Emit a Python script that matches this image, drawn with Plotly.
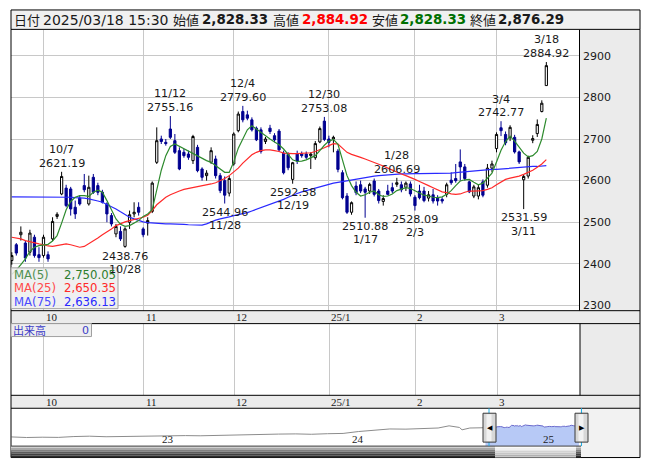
import plotly.graph_objects as go

W, H = 653, 470

# ---------------- data ----------------
sep_days = [19, 20, 24, 25, 26, 27, 30]
oct_days = [1, 2, 3, 4, 7, 8, 9, 10, 11, 15, 16, 17, 18, 21, 22, 23, 24, 25, 28, 29, 30, 31]
nov_days = [1, 5, 6, 7, 8, 11, 12, 13, 14, 15, 18, 19, 20, 21, 22, 25, 26, 27, 28, 29]
dec_days = [2, 3, 4, 5, 6, 9, 10, 11, 12, 13, 16, 17, 18, 19, 20, 23, 24, 25, 26, 27, 30]
jan_days = [6, 7, 8, 9, 10, 14, 15, 16, 17, 20, 21, 22, 23, 24, 27, 28, 29, 30, 31]
feb_days = [3, 4, 5, 6, 7, 10, 12, 13, 14, 17, 18, 19, 20, 21, 25, 26, 27, 28]
mar_days = [3, 4, 5, 6, 7, 10, 11, 12, 13, 14, 17, 18]

opens = [2408, 2446, 2470, 2450, 2428, 2464, 2422, 2420, 2422, 2460,
         2514, 2568, 2582, 2580, 2536, 2558, 2588, 2544, 2608, 2588,
         2572, 2544, 2516, 2472, 2478, 2442, 2500, 2520, 2536, 2484,
         2498, 2526, 2644, 2700, 2692, 2724, 2696, 2672, 2668, 2664,
         2648, 2680, 2628, 2612, 2644, 2652, 2612, 2600, 2570, 2640,
         2720, 2766, 2758, 2746, 2726, 2722, 2694, 2726, 2708, 2719,
         2666, 2663, 2603, 2665, 2664, 2664, 2660, 2655, 2693, 2743,
         2700, 2700, 2671, 2619, 2563, 2524, 2587, 2590, 2580, 2575,
         2599, 2575, 2550, 2575, 2583, 2591, 2590, 2584, 2592, 2560,
         2575, 2575, 2558, 2566, 2559, 2555, 2567, 2601, 2605, 2645,
         2633, 2597, 2563, 2563, 2597, 2589, 2630, 2677, 2727, 2711,
         2703, 2704, 2669, 2602, 2611, 2697, 2713, 2766, 2828.33]
highs = [2428, 2450, 2490, 2455, 2482, 2470, 2440, 2470, 2430, 2512,
         2524, 2621.19, 2590, 2585, 2552, 2565, 2616, 2612, 2616, 2595,
         2578, 2548, 2522, 2496, 2490, 2488, 2528, 2548, 2548, 2488,
         2512, 2598, 2728, 2708, 2700, 2755.16, 2712, 2680, 2676, 2672,
         2710, 2686, 2632, 2625, 2680, 2660, 2618, 2610, 2612, 2716,
         2766, 2779.60, 2768, 2752, 2730, 2728, 2705, 2734, 2714, 2724,
         2672, 2668, 2645, 2672, 2670, 2670, 2668, 2695, 2730, 2753.08,
         2708, 2708, 2676, 2625, 2570, 2550, 2598, 2600, 2585, 2595,
         2605, 2580, 2565, 2590, 2595, 2606.69, 2598, 2598, 2598, 2565,
         2590, 2585, 2575, 2580, 2565, 2560, 2595, 2620, 2640, 2675,
         2640, 2600, 2590, 2590, 2603, 2640, 2648, 2716, 2742.77, 2718,
         2733, 2710, 2672, 2614, 2660, 2709, 2747, 2793, 2884.92]
lows = [2398, 2420, 2456, 2405, 2420, 2415, 2405, 2415, 2405, 2455,
        2508, 2565, 2536, 2516, 2508, 2540, 2572, 2540, 2568, 2565,
        2545, 2500, 2490, 2464, 2455, 2438.76, 2484, 2512, 2516, 2464,
        2468, 2522, 2640, 2688, 2684, 2700, 2664, 2625, 2655, 2650,
        2640, 2620, 2600, 2600, 2640, 2605, 2570, 2544.96, 2562, 2636,
        2716, 2740, 2745, 2718, 2695, 2665, 2688, 2712, 2692, 2670,
        2615, 2625, 2592.58, 2640, 2655, 2652, 2628, 2650, 2690, 2695,
        2680, 2668, 2620, 2555, 2520, 2518, 2565, 2570, 2510.88, 2568,
        2562, 2545, 2540, 2565, 2570, 2585, 2572, 2575, 2562, 2528.09,
        2555, 2548, 2550, 2545, 2540, 2545, 2560, 2590, 2595, 2600,
        2600, 2570, 2558, 2555, 2560, 2583, 2620, 2668, 2707, 2685,
        2695, 2665, 2640, 2531.59, 2605, 2690, 2705, 2764, 2828.33]
closes = [2420, 2426, 2476, 2414, 2474, 2420, 2415, 2464, 2412, 2502,
          2519, 2610, 2540, 2532, 2520, 2544, 2578, 2584, 2572, 2572,
          2548, 2520, 2496, 2490, 2460, 2484, 2518, 2524, 2524, 2470,
          2504, 2594, 2696, 2694, 2689, 2704, 2668, 2628, 2660, 2656,
          2706, 2624, 2608, 2618, 2672, 2612, 2576, 2565, 2605, 2712,
          2760, 2746, 2750, 2722, 2698, 2670, 2700, 2718, 2698, 2674,
          2619, 2631, 2643, 2647, 2660, 2656, 2664, 2689, 2725, 2699,
          2692, 2704, 2627, 2559, 2524, 2547, 2571, 2575, 2572, 2591,
          2567, 2552, 2557, 2567, 2575, 2595, 2578, 2594, 2568, 2540,
          2559, 2552, 2566, 2551, 2551, 2551, 2590, 2595, 2600, 2633,
          2605, 2573, 2585, 2583, 2565, 2630, 2640, 2711, 2720, 2691,
          2728, 2669, 2645, 2610, 2656, 2701, 2735, 2786, 2876.29]

ma5 = [2375, 2385, 2398, 2412, 2430, 2440, 2444, 2446, 2447, 2455,
       2468, 2498, 2530, 2550, 2560, 2564, 2564, 2562, 2572, 2577,
       2572, 2552, 2530, 2508, 2495, 2490, 2492, 2498, 2504, 2514,
       2520, 2530, 2575, 2625, 2660, 2682, 2688, 2682, 2676, 2670,
       2664, 2660, 2653, 2648, 2644, 2636, 2626, 2620, 2620, 2645,
       2678, 2702, 2722, 2732, 2724, 2715, 2706, 2700, 2693, 2686,
       2676, 2663, 2650, 2646, 2647, 2650, 2655, 2660, 2672, 2685,
       2695, 2699, 2687, 2650, 2612, 2588, 2572, 2563, 2566, 2572,
       2575, 2566, 2562, 2563, 2568, 2576, 2580, 2583, 2581, 2576,
       2570, 2565, 2563, 2560, 2559, 2561, 2567, 2576, 2588, 2599,
       2602, 2603, 2596, 2590, 2594, 2606, 2618, 2645, 2673, 2694,
       2707, 2695, 2679, 2666, 2657, 2660, 2670, 2700, 2750.05]
ma25 = [2464, 2462, 2460, 2456, 2453, 2450, 2448, 2446, 2443, 2442,
        2444, 2446, 2448, 2446, 2443, 2440, 2442, 2448, 2455, 2462,
        2470, 2476, 2484, 2492, 2497, 2501, 2504, 2507, 2510, 2512,
        2517, 2528, 2542, 2552, 2560, 2566, 2571, 2575, 2579, 2581,
        2583, 2585, 2587, 2590, 2592, 2595, 2600, 2605, 2612, 2620,
        2630, 2642, 2653, 2662, 2668, 2672, 2674, 2674, 2672, 2670,
        2666, 2665, 2665, 2665, 2666, 2666, 2667, 2670, 2674, 2679,
        2684, 2689, 2688, 2678, 2668, 2663, 2660, 2656, 2652, 2648,
        2643, 2639, 2635, 2630, 2625, 2620, 2616, 2612, 2608, 2603,
        2598, 2592, 2588, 2583, 2578, 2573, 2571, 2568, 2567, 2568,
        2572, 2575, 2575, 2575, 2576, 2579, 2583, 2590, 2596, 2603,
        2606, 2608, 2611, 2615, 2620, 2625, 2632, 2640, 2650.35]
ma75 = [2561, 2561, 2561, 2560, 2560, 2560, 2560, 2560, 2560, 2560,
        2560, 2560, 2560, 2560, 2559, 2559, 2558, 2556, 2554, 2551,
        2548, 2543, 2538, 2532, 2525, 2518, 2512, 2508, 2504, 2501,
        2499, 2498, 2497, 2497, 2496, 2496, 2496, 2495, 2495, 2494,
        2494, 2493, 2493, 2496, 2501, 2505, 2508, 2510, 2513, 2516,
        2518, 2520, 2523, 2527, 2531, 2535, 2538, 2542, 2546, 2550,
        2555, 2560, 2565, 2569, 2573, 2576, 2579, 2583, 2586, 2589,
        2592, 2594, 2596, 2598, 2600, 2602, 2604, 2606, 2608, 2609,
        2611, 2612, 2613, 2614, 2615, 2615, 2616, 2616, 2617, 2617,
        2617, 2617, 2617, 2617, 2618, 2618, 2618, 2618, 2619, 2620,
        2621, 2623, 2624, 2625, 2625, 2626, 2627, 2627, 2628, 2628,
        2629, 2630, 2631, 2632, 2633, 2634, 2634, 2635, 2636.13]

swing_highs = [("10/7", 2621.19), ("11/12", 2755.16), ("12/4", 2779.60),
               ("12/30", 2753.08), ("1/28", 2606.69), ("3/4", 2742.77),
               ("3/18", 2884.92)]
swing_lows = [("10/28", 2438.76), ("11/28", 2544.96), ("12/19", 2592.58),
              ("1/17", 2510.88), ("2/3", 2528.09), ("3/11", 2531.59)]

price_ticks = [2300, 2400, 2500, 2600, 2700, 2800, 2900]
month_labels = ["10", "11", "12", "25/1", "2", "3"]

nav_dates = ["2022-03-22", "2022-04-20", "2022-05-20", "2022-06-20", "2022-07-20",
             "2022-08-19", "2022-09-20", "2022-10-20", "2022-11-18", "2022-12-20",
             "2023-01-20", "2023-02-20", "2023-03-20", "2023-04-20", "2023-05-19",
             "2023-06-20", "2023-07-20", "2023-08-18", "2023-09-20", "2023-10-20",
             "2023-11-20", "2023-12-20", "2024-01-19", "2024-02-20", "2024-03-19",
             "2024-04-19", "2024-05-20", "2024-06-20", "2024-07-11", "2024-07-31",
             "2024-08-05", "2024-08-20", "2024-09-18"]
nav_vals = [1480, 1420, 1450, 1430, 1520, 1560, 1500, 1530, 1580, 1560,
            1590, 1620, 1600, 1650, 1700, 1760, 1760, 1780, 1800, 1760,
            1820, 1850, 2050, 2200, 2320, 2300, 2380, 2420, 2650, 2480,
            2230, 2420, 2450]

trade_days = (
    [f"2024-09-{d:02d}" for d in sep_days] + [f"2024-10-{d:02d}" for d in oct_days] +
    [f"2024-11-{d:02d}" for d in nov_days] + [f"2024-12-{d:02d}" for d in dec_days] +
    [f"2025-01-{d:02d}" for d in jan_days] + [f"2025-02-{d:02d}" for d in feb_days] +
    [f"2025-03-{d:02d}" for d in mar_days])
idx = list(range(len(trade_days)))

nav_win_dates = trade_days
nav_win_vals = closes

# --------------- geometry helpers ---------------
def px(x):
    return x / W

def py(y):
    return 1 - y / H

PX_PER_DAY = 4.53
X0_PIX, X0_IDX = 43.5, 7


def idx_at(p):
    return X0_IDX + (p - X0_PIX) / PX_PER_DAY


def price_at(y):
    return 2900 - (y - 56) / 0.418


NAV_TOP, NAV_BOT = 410.5, 448
NAV_PTS_PER_PX = 105.0


def nav_at(y):
    return 2876.29 - (y - 425.5) * NAV_PTS_PER_PX


month_first_idx = []
for mm in ["2024-10", "2024-11", "2024-12", "2025-01", "2025-02", "2025-03"]:
    month_first_idx.append(next(i for i, d in enumerate(trade_days) if d.startswith(mm)))

FONT = "DejaVu Sans, Noto Sans CJK JP, sans-serif"
JFONT = "Noto Sans CJK JP, DejaVu Sans, sans-serif"
SERIF = "Liberation Serif, DejaVu Serif, serif"

fig = go.Figure()

fig.add_trace(go.Candlestick(
    x=idx, open=opens, high=highs, low=lows, close=closes,
    increasing=dict(line=dict(color="#000000", width=1), fillcolor="#ffffff"),
    decreasing=dict(line=dict(color="#000090", width=1), fillcolor="#000090"),
    whiskerwidth=0, showlegend=False, hoverinfo="skip", xaxis="x", yaxis="y"))

for vals, col in [(ma75, "#2a2aff"), (ma25, "#ff2a2a"), (ma5, "#2e8b2e")]:
    fig.add_trace(go.Scatter(x=idx, y=vals, mode="lines", line=dict(color=col, width=1.2),
                             showlegend=False, hoverinfo="skip", xaxis="x", yaxis="y"))

fig.add_trace(go.Scatter(x=[idx[0]], y=[-1], mode="markers", marker=dict(opacity=0),
                         showlegend=False, hoverinfo="skip", xaxis="x2", yaxis="y2"))

fig.add_trace(go.Scatter(x=nav_dates + nav_win_dates[:1], y=nav_vals + nav_win_vals[:1],
                         mode="lines", line=dict(color="#8c8c8c", width=1),
                         showlegend=False, hoverinfo="skip", xaxis="x3", yaxis="y3"))
fig.add_trace(go.Scatter(x=nav_win_dates, y=nav_win_vals, mode="lines",
                         line=dict(color="#6a6acc", width=1), fill="tozeroy",
                         fillcolor="rgba(170,192,245,0.85)",
                         showlegend=False, hoverinfo="skip", xaxis="x3", yaxis="y3"))

xr = [idx_at(11), idx_at(579)]
layout = dict(
    width=W, height=H, margin=dict(l=0, r=0, t=0, b=0),
    paper_bgcolor="#ffffff", plot_bgcolor="#ffffff", showlegend=False,
    xaxis=dict(domain=[px(11), px(579)], range=xr, tickvals=month_first_idx,
               showticklabels=False, showgrid=True, gridcolor="#c8c8c8", gridwidth=1,
               zeroline=False, showline=False, ticks="", rangeslider=dict(visible=False),
               fixedrange=True),
    yaxis=dict(domain=[py(312), py(30)], range=[price_at(312), price_at(30)], side="right",
               tickvals=price_ticks, ticktext=[str(v) for v in price_ticks],
               tickfont=dict(family=FONT, size=11, color="#1a1a1a"),
               showgrid=True, gridcolor="#c8c8c8", gridwidth=1, zeroline=False,
               showline=False, ticks="", ticklabelstandoff=3, fixedrange=True),
    xaxis2=dict(domain=[px(11), px(580)], range=xr, anchor="y2", tickvals=month_first_idx,
                showticklabels=False, showgrid=True, gridcolor="#c8c8c8", zeroline=False,
                showline=False, ticks=""),
    yaxis2=dict(domain=[py(397), py(325)], range=[0, 1], anchor="x2", showgrid=False,
                showticklabels=False, zeroline=False, showline=False),
    xaxis3=dict(domain=[px(11), px(580)], type="date", range=["2022-03-21", "2025-03-20"],
                anchor="y3", showticklabels=False, showgrid=False, zeroline=False,
                showline=False, ticks=""),
    yaxis3=dict(domain=[py(NAV_BOT), py(NAV_TOP)], range=[nav_at(NAV_BOT), nav_at(NAV_TOP)],
                anchor="x3", showgrid=False, showticklabels=False, zeroline=False,
                showline=False),
)
fig.update_layout(**layout)

shapes = []


def rect(x0, y0, x1, y1, fill=None, line="#000000", lw=1, layer="above"):
    shapes.append(dict(type="rect", xref="paper", yref="paper", x0=px(x0), x1=px(x1),
                       y0=py(y1), y1=py(y0), fillcolor=fill or "rgba(0,0,0,0)",
                       line=dict(color=line, width=lw) if lw else dict(width=0), layer=layer))


def hline(x0, x1, y, color="#000000", lw=1):
    shapes.append(dict(type="line", xref="paper", yref="paper", x0=px(x0), x1=px(x1),
                       y0=py(y), y1=py(y), line=dict(color=color, width=lw)))


def vline(x, y0, y1, color="#000000", lw=1):
    shapes.append(dict(type="line", xref="paper", yref="paper", x0=px(x), x1=px(x),
                       y0=py(y0), y1=py(y1), line=dict(color=color, width=lw)))


rect(579, 30, 640, 312, fill="#ebebeb", lw=0, layer="below")
rect(11, 312, 640, 325, fill="#ebebeb", lw=0, layer="below")
rect(580, 325, 640, 397, fill="#ebebeb", lw=0, layer="below")
rect(11, 397, 640, 410, fill="#ebebeb", lw=0, layer="below")
rect(580, 410, 640, 459, fill="#f2f2f2", lw=0, layer="below")

rect(11, 10, 640, 29.5, fill="#f0f0f0", line="#000000", lw=1)
vline(11, 29.5, 459.5)
vline(640, 29.5, 459.5)
vline(579.5, 30, 312)
vline(580, 325, 397)
hline(11, 640, 312)
hline(11, 640, 325)
hline(11, 640, 397)
hline(11, 640, 410)
hline(11, 640, 459.5)

grads = ["#d0d0d0", "#a8a8a8", "#808080", "#5c5c5c", "#404040", "#2c2c2c"]
for k, c in enumerate(grads):
    rect(11, 448 + k * 1.9, 581, 449.9 + k * 1.9, fill=c, lw=0)
lgr = ["#fafafa", "#f0f0f0", "#e6e6e6", "#dcdcdc", "#d2d2d2", "#c8c8c8"]
for k, c in enumerate(lgr):
    rect(495, 448 + k * 1.9, 576, 449.9 + k * 1.9, fill=c, lw=0)
hline(11, 581, 448, color="#404040")
vline(489, 410, 448, color="#20b0e8")
vline(581.5, 410, 448, color="#20b0e8")
for hx in (489.5, 581.5):
    rect(hx - 6.5, 415, hx + 6.5, 444, fill="#d8d8d8", line="#3a3a3a", lw=1)
    rect(hx - 3, 416, hx + 2, 443, fill="#f2f2f2", lw=0)

rect(11, 269, 118, 310, fill="rgba(238,238,238,0.88)", line="#a0a0a0", lw=1)
rect(11, 325, 91.5, 338, fill="#eeeeee", line="#a0a0a0", lw=1)

fig.update_layout(shapes=shapes)

ann = []


def text(x, y, s, size=11, color="#1a1a1a", family=FONT, xanchor="left", yanchor="middle",
         xref="paper", yref="paper", bold=False, xshift=0, yshift=0):
    if xref == "paper":
        x = px(x)
    if yref == "paper":
        y = py(y)
    ann.append(dict(x=x, y=y, xref=xref, yref=yref, text=(f"<b>{s}</b>" if bold else s),
                    showarrow=False, xanchor=xanchor, yanchor=yanchor,
                    font=dict(family=family, size=size, color=color), borderpad=0,
                    xshift=xshift, yshift=yshift))


text(12.5, 19.8, "日付", size=13, family=JFONT)
text(41.5, 19.8, "2025/03/18 15:30", size=14)
text(172, 19.8, "始値", size=13, family=JFONT)
text(201, 19.8, f"{opens[-1]:,.2f}", size=13.4, bold=True)
text(271.5, 19.8, "高値", size=13, family=JFONT)
text(301, 19.8, f"{highs[-1]:,.2f}", size=13.4, bold=True, color="#ff0000")
text(370.5, 19.8, "安値", size=13, family=JFONT)
text(398.5, 19.8, f"{lows[-1]:,.2f}", size=13.4, bold=True, color="#007000")
text(468.5, 19.8, "終値", size=13, family=JFONT)
text(496.5, 19.8, f"{closes[-1]:,.2f}", size=13.4, bold=True)

for mi, lab in zip(month_first_idx, month_labels):
    text(mi, 318.5, lab, size=11, family=SERIF, xref="x", xshift=1.5)
    text(mi, 403.5, lab, size=11, family=SERIF, xref="x", xshift=1.5)

for yd, lab in [("2023-01-04", "23"), ("2024-01-04", "24"), ("2025-01-06", "25")]:
    ann.append(dict(x=yd, y=py(440.5), xref="x3", yref="paper", text=lab, showarrow=False,
                    xanchor="left", yanchor="middle", borderpad=0,
                    font=dict(family=SERIF, size=11, color="#1a1a1a")))

LBL = 11.2
PITCH = 13.6
for lab, val in swing_highs:
    i = next(k for k, v in enumerate(highs) if abs(v - val) < 1e-6)
    ann.append(dict(x=i, y=val, xref="x", yref="y", text=f"{val:.2f}", showarrow=False,
                    xanchor="center", yanchor="bottom", yshift=1, borderpad=0,
                    font=dict(family=FONT, size=LBL, color="#1a1a1a")))
    ann.append(dict(x=i, y=val, xref="x", yref="y", text=lab, showarrow=False,
                    xanchor="center", yanchor="bottom", yshift=1 + PITCH, borderpad=0,
                    font=dict(family=FONT, size=LBL, color="#1a1a1a")))
for lab, val in swing_lows:
    i = next(k for k, v in enumerate(lows) if abs(v - val) < 1e-6)
    ann.append(dict(x=i, y=val, xref="x", yref="y", text=f"{val:.2f}", showarrow=False,
                    xanchor="center", yanchor="top", yshift=-1, borderpad=0,
                    font=dict(family=FONT, size=LBL, color="#1a1a1a")))
    ann.append(dict(x=i, y=val, xref="x", yref="y", text=lab, showarrow=False,
                    xanchor="center", yanchor="top", yshift=-1 - PITCH, borderpad=0,
                    font=dict(family=FONT, size=LBL, color="#1a1a1a")))

for row, (name, val, c1, c2) in enumerate([("MA(5)", ma5[-1], "#4f8f4f", "#2e7d2e"),
                                            ("MA(25)", ma25[-1], "#ff4a4a", "#ff2a2a"),
                                            ("MA(75)", ma75[-1], "#4a4aff", "#2a2aff")]):
    yy = 276 + row * 13.7
    text(12.5, yy, name, size=11.7, color=c1)
    text(117, yy, f"{val:,.2f}", size=11.7, color=c2, xanchor="right")

text(12, 331.5, "出来高", size=11, color="#3c3cc8", family=JFONT)
text(90, 331.5, "0", size=11, color="#3c3cc8", xanchor="right")

text(489.5, 429.5, "◀", size=7, color="#000000", xanchor="center")
text(581.5, 429.5, "▶", size=7, color="#000000", xanchor="center")

fig.update_layout(annotations=ann)

fig.write_html("out.html", config=dict(displayModeBar=False),
               post_script="document.body.style.margin='0px';document.body.style.padding='0px';document.body.style.overflow='hidden';")
